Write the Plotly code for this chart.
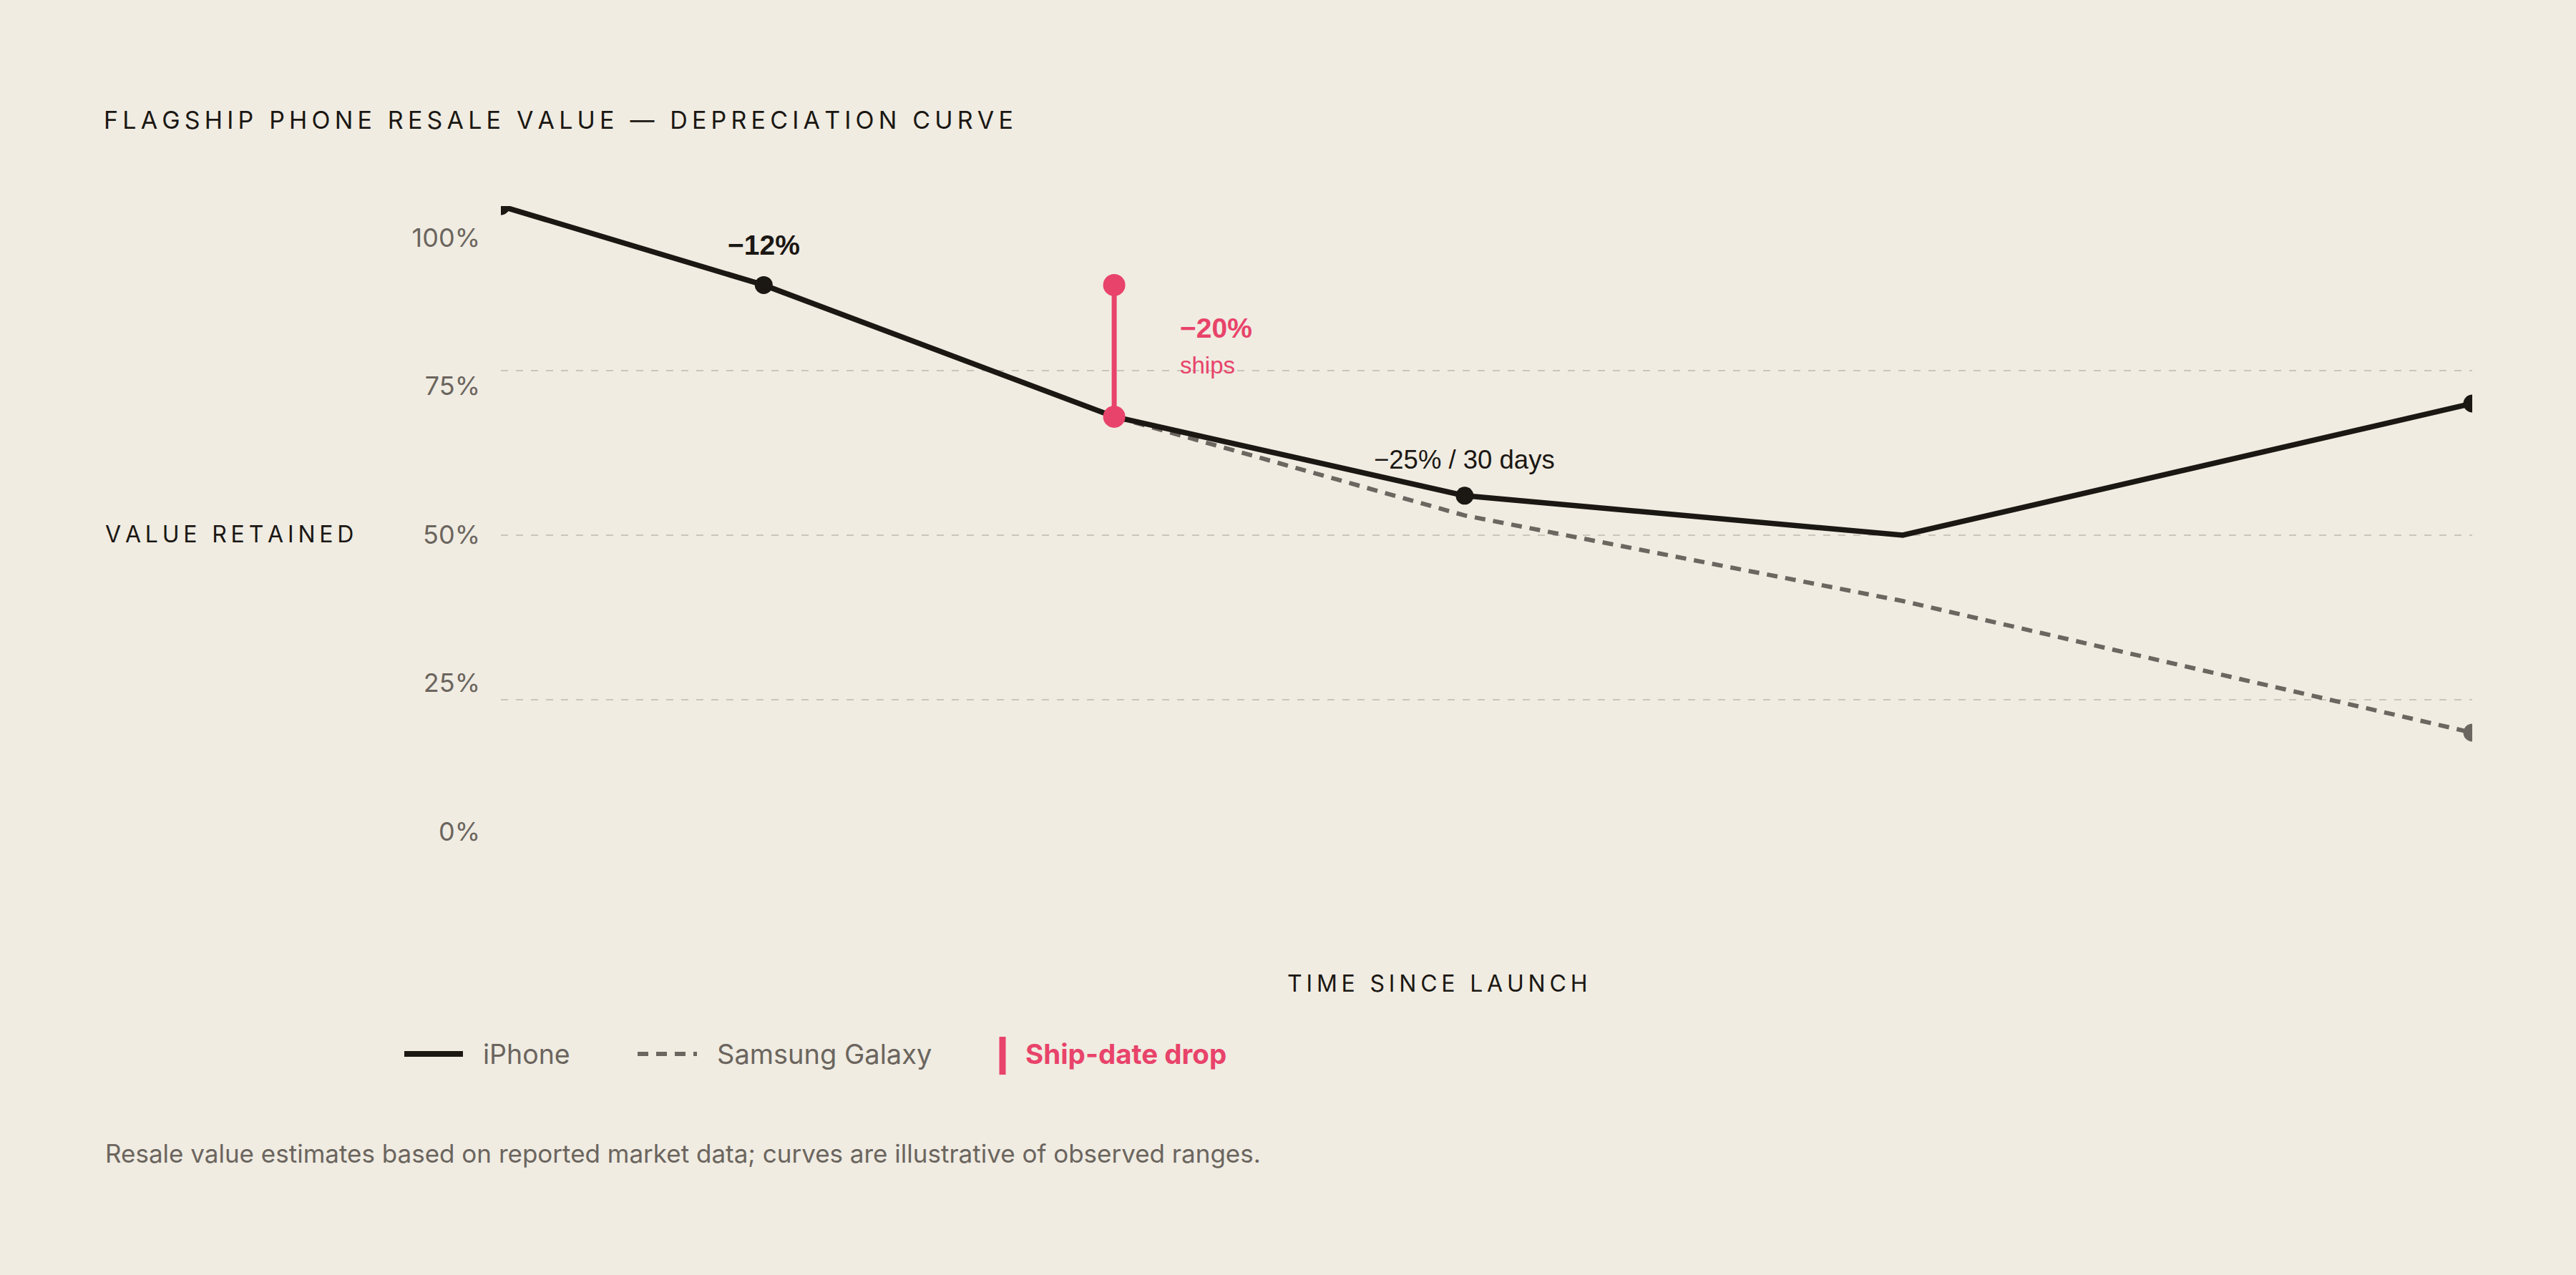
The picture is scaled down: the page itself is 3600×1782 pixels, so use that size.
import plotly.graph_objects as go

# --- data ---------------------------------------------------------------
launch_t = [0, 6, 14, 22, 32, 45]          # time since launch (x position)
iphone = [100, 88, 68, 56, 50, 70]         # % of value retained
galaxy = [100, 88, 68, 53, 40, 20]

ship_t = [14, 14]                          # ship-date drop
ship_val = [88, 68]

grid_vals = [25, 50, 75, 100]
tick_vals = [0, 25, 50, 75, 100]
tick_text = ["0%", "25%", "50%", "75%", "100%"]

series_names = ["iPhone", "Samsung Galaxy", "Ship-date drop"]
notes = ["\u221212%", "\u221225% / 30 days", "\u221220%", "ships"]

# --- style --------------------------------------------------------------
W, H = 3600, 1782
L, R, T, B = 700, 3455, 288, 1208          # plot area in px

BG = "#f0ece2"
INK = "#1b1713"
GREY = "#6b665f"
MUTED = "#6b655e"
RED = "#e8436a"
GRID = "#cbc6bc"
SANS = "Inter"
ARIAL = "Liberation Sans"


def px(x):
    return (x - L) / (R - L)


def py(y):
    return (B - y) / (B - T)


def tracked(s):
    # fake letter-spacing with thin spaces
    return "\u2009".join(s)


def dots(n, keep, size):
    return [size if i in keep else 0 for i in range(n)]


fig = go.Figure()

fig.add_trace(go.Scatter(
    x=launch_t, y=galaxy, mode="lines+markers", name=series_names[1],
    line=dict(color=GREY, width=6, dash="15px,11px"),
    marker=dict(color=GREY, opacity=1, line=dict(width=0),
                size=dots(len(galaxy), [0, 5], 25)),
    cliponaxis=True, hoverinfo="skip",
))
fig.add_trace(go.Scatter(
    x=launch_t, y=iphone, mode="lines+markers", name=series_names[0],
    line=dict(color=INK, width=7.5),
    marker=dict(color=INK, opacity=1, line=dict(width=0),
                size=dots(len(iphone), [0, 1, 3, 5], 25)),
    cliponaxis=True, hoverinfo="skip",
))
fig.add_trace(go.Scatter(
    x=ship_t, y=ship_val, mode="lines+markers", name=series_names[2],
    line=dict(color=RED, width=7),
    marker=dict(color=RED, size=31, opacity=1, line=dict(width=0)),
    cliponaxis=False, hoverinfo="skip",
))
# keeps the label axis alive
fig.add_trace(go.Scatter(x=[0], y=[50], yaxis="y2", mode="markers",
                         marker=dict(opacity=0), hoverinfo="skip"))

ship_mid = sum(ship_val) / 2

annotations = [
    dict(text=tracked("VALUE RETAINED"), xref="paper", yref="paper",
         x=px(145), y=py(746), xanchor="left", yanchor="middle",
         font=dict(family=SANS, size=32, color=INK)),
    dict(text=tracked("TIME SINCE LAUNCH"), xref="paper", yref="paper",
         x=px(2008), y=py(1374), xanchor="center", yanchor="middle",
         font=dict(family=SANS, size=32, color=INK)),
    dict(text=notes[0], x=launch_t[1], y=iphone[1], yshift=56,
         font=dict(family=ARIAL, size=39, color=INK, weight="bold")),
    dict(text=notes[1], x=launch_t[3], y=iphone[3], yshift=50,
         font=dict(family=ARIAL, size=36.5, color=INK)),
    dict(text=notes[2], x=ship_t[0], y=ship_mid, xshift=90, yshift=32,
         xanchor="left", font=dict(family=ARIAL, size=39, color=RED, weight="bold")),
    dict(text=notes[3], x=ship_t[0], y=ship_mid, xshift=90, yshift=-20,
         xanchor="left", font=dict(family=ARIAL, size=33, color=RED)),
    # legend labels
    dict(text=series_names[0], xref="paper", yref="paper", x=px(673), y=py(1473),
         xanchor="left", yanchor="middle", font=dict(family=SANS, size=37.5, color=MUTED)),
    dict(text=series_names[1], xref="paper", yref="paper", x=px(1000), y=py(1473),
         xanchor="left", yanchor="middle", font=dict(family=SANS, size=38, color=MUTED)),
    dict(text=series_names[2], xref="paper", yref="paper", x=px(1431), y=py(1473),
         xanchor="left", yanchor="middle",
         font=dict(family=SANS, size=38.5, color=RED, weight="bold")),
    dict(text="Resale value estimates based on reported market data; "
              "curves are illustrative of observed ranges.",
         xref="paper", yref="paper", x=px(145), y=py(1612),
         xanchor="left", yanchor="middle", font=dict(family=SANS, size=35, color=MUTED)),
]
for a in annotations:
    a.setdefault("showarrow", False)

shapes = [
    dict(type="line", xref="paper", yref="paper", x0=px(565), x1=px(647),
         y0=py(1473), y1=py(1473), line=dict(color=INK, width=8)),
    dict(type="line", xref="paper", yref="paper", x0=px(891), x1=px(974),
         y0=py(1473), y1=py(1473), line=dict(color=GREY, width=6, dash="15px,11px")),
    dict(type="line", xref="paper", yref="paper", x0=px(1401), x1=px(1401),
         y0=py(1449), y1=py(1502), line=dict(color=RED, width=9)),
]

fig.update_layout(
    width=W, height=H,
    margin=dict(l=L, r=W - R, t=T, b=H - B, pad=0),
    paper_bgcolor=BG, plot_bgcolor=BG,
    showlegend=False,
    title=dict(
        text=tracked("FLAGSHIP PHONE RESALE VALUE \u2014 DEPRECIATION CURVE"),
        xref="container", yref="container", x=145 / W, y=1 - 168 / H,
        xanchor="left", yanchor="middle",
        font=dict(family=SANS, size=34, color=INK),
    ),
    xaxis=dict(range=[0, 45], showgrid=False, zeroline=False, showline=False,
               showticklabels=False, ticks=""),
    yaxis=dict(range=[0, 100], tickvals=grid_vals, showticklabels=False, ticks="",
               showgrid=True, gridcolor=GRID, gridwidth=2, griddash="10px,11px",
               zeroline=False, showline=False),
    yaxis2=dict(overlaying="y", side="left", range=[-5.54, 105.3],
                tickvals=tick_vals, ticktext=tick_text, showgrid=False,
                zeroline=False, showline=False, ticks="", ticklabelstandoff=28,
                tickfont=dict(family=SANS, size=36, color=MUTED)),
    annotations=annotations,
    shapes=shapes,
)

fig.write_html(
    "out.html",
    config={"displayModeBar": False},
    post_script="document.body.style.margin='0';"
                "document.body.style.background='" + BG + "';",
)
